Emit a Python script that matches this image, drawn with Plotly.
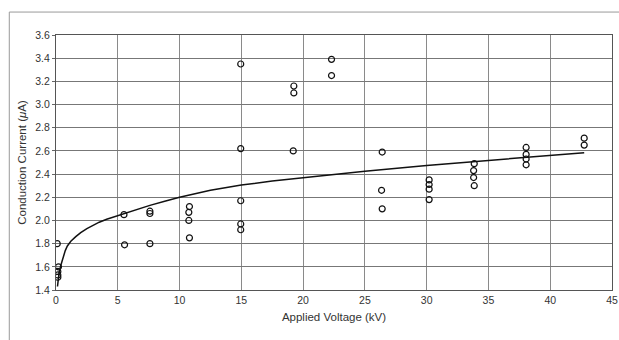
import plotly.graph_objects as go

# Measured data points (Applied Voltage kV, Conduction Current uA)
voltage = [0.1, 0.2, 0.15, 0.15, 0.15,
           5.5, 5.55,
           7.6, 7.6, 7.6,
           10.8, 10.75, 10.75, 10.8,
           14.95, 14.95, 14.95, 14.95, 14.95,
           19.25, 19.25, 19.2,
           22.3, 22.3,
           26.4, 26.35, 26.4,
           30.2, 30.2, 30.2, 30.2,
           33.85, 33.8, 33.8, 33.85,
           38.05, 38.05, 38.05, 38.05,
           42.75, 42.75]
current = [1.80, 1.60, 1.56, 1.53, 1.51,
           2.05, 1.79,
           2.08, 2.06, 1.80,
           2.12, 2.07, 2.00, 1.85,
           3.35, 2.62, 2.17, 1.97, 1.92,
           3.16, 3.10, 2.60,
           3.39, 3.25,
           2.59, 2.26, 2.10,
           2.35, 2.31, 2.27, 2.18,
           2.49, 2.43, 2.37, 2.30,
           2.63, 2.57, 2.53, 2.48,
           2.71, 2.65]

# Fitted trend curve
fit_x = [0.12, 0.18, 0.25, 0.38, 0.55, 0.75, 0.92, 1.2, 1.6, 2.0, 2.5, 3.0, 3.5, 4.1, 4.8, 5.5,
         6.5, 7.6, 8.8, 10.0, 12.5, 15.0, 17.5, 20.0, 25.0, 30.0, 35.0, 40.0, 42.75]
fit_y = [1.43, 1.50, 1.55, 1.61, 1.68, 1.74, 1.78, 1.82, 1.86, 1.895, 1.93, 1.96, 1.985, 2.01, 2.035, 2.06,
         2.095, 2.13, 2.165, 2.20, 2.26, 2.305, 2.34, 2.37, 2.425, 2.475, 2.52, 2.563, 2.585]

x_ticks = [0, 5, 10, 15, 20, 25, 30, 35, 40, 45]
y_ticks = [1.4, 1.6, 1.8, 2.0, 2.2, 2.4, 2.6, 2.8, 3.0, 3.2, 3.4, 3.6]

FONT = "Liberation Sans, Arial, sans-serif"

fig = go.Figure()
fig.add_trace(go.Scatter(
    x=fit_x, y=fit_y, mode="lines", line=dict(color="#111111", width=1.5),
    showlegend=False, hoverinfo="skip"))
fig.add_trace(go.Scatter(
    x=voltage, y=current, mode="markers",
    marker=dict(symbol="circle-open", size=6, color="#111111", line=dict(width=1.2, color="#111111")),
    showlegend=False))

fig.update_xaxes(
    range=[0, 45], tickvals=x_ticks, ticktext=[str(v) for v in x_ticks],
    showgrid=True, gridcolor="#8a8a8a", gridwidth=1,
    showline=True, linecolor="#555555", linewidth=1, mirror=True,
    zeroline=False, ticks="", automargin=False,
    tickfont=dict(family=FONT, size=10.5, color="#333333"),
    title=dict(text="Applied Voltage (kV)", font=dict(family=FONT, size=11.5, color="#333333"), standoff=8))
fig.update_yaxes(
    range=[1.4, 3.6], tickvals=y_ticks, ticktext=[f"{v:.1f}" for v in y_ticks],
    showgrid=True, gridcolor="#777777", gridwidth=1,
    showline=True, linecolor="#555555", linewidth=1, mirror=True,
    zeroline=False, ticks="outside", ticklen=3, tickcolor="#666666", automargin=False,
    tickfont=dict(family=FONT, size=10.5, color="#333333"),
    title=dict(text="Conduction Current (<i>μ</i>A)", font=dict(family=FONT, size=11.5, color="#333333"), standoff=6))

fig.update_layout(
    width=619, height=340,
    margin=dict(l=56, r=7, t=35, b=50),
    plot_bgcolor="white", paper_bgcolor="white",
    shapes=[
        dict(type="line", xref="paper", yref="paper", x0=-0.084, x1=1.02, y0=1.09, y1=1.09,
             line=dict(color="#999999", width=1)),
        dict(type="line", xref="paper", yref="paper", x0=-0.084, x1=-0.084, y0=1.09, y1=-0.25,
             line=dict(color="#999999", width=1)),
    ],
)

fig.write_html("out.html", config={"displayModeBar": False},
               post_script="document.body.style.margin='0';")
